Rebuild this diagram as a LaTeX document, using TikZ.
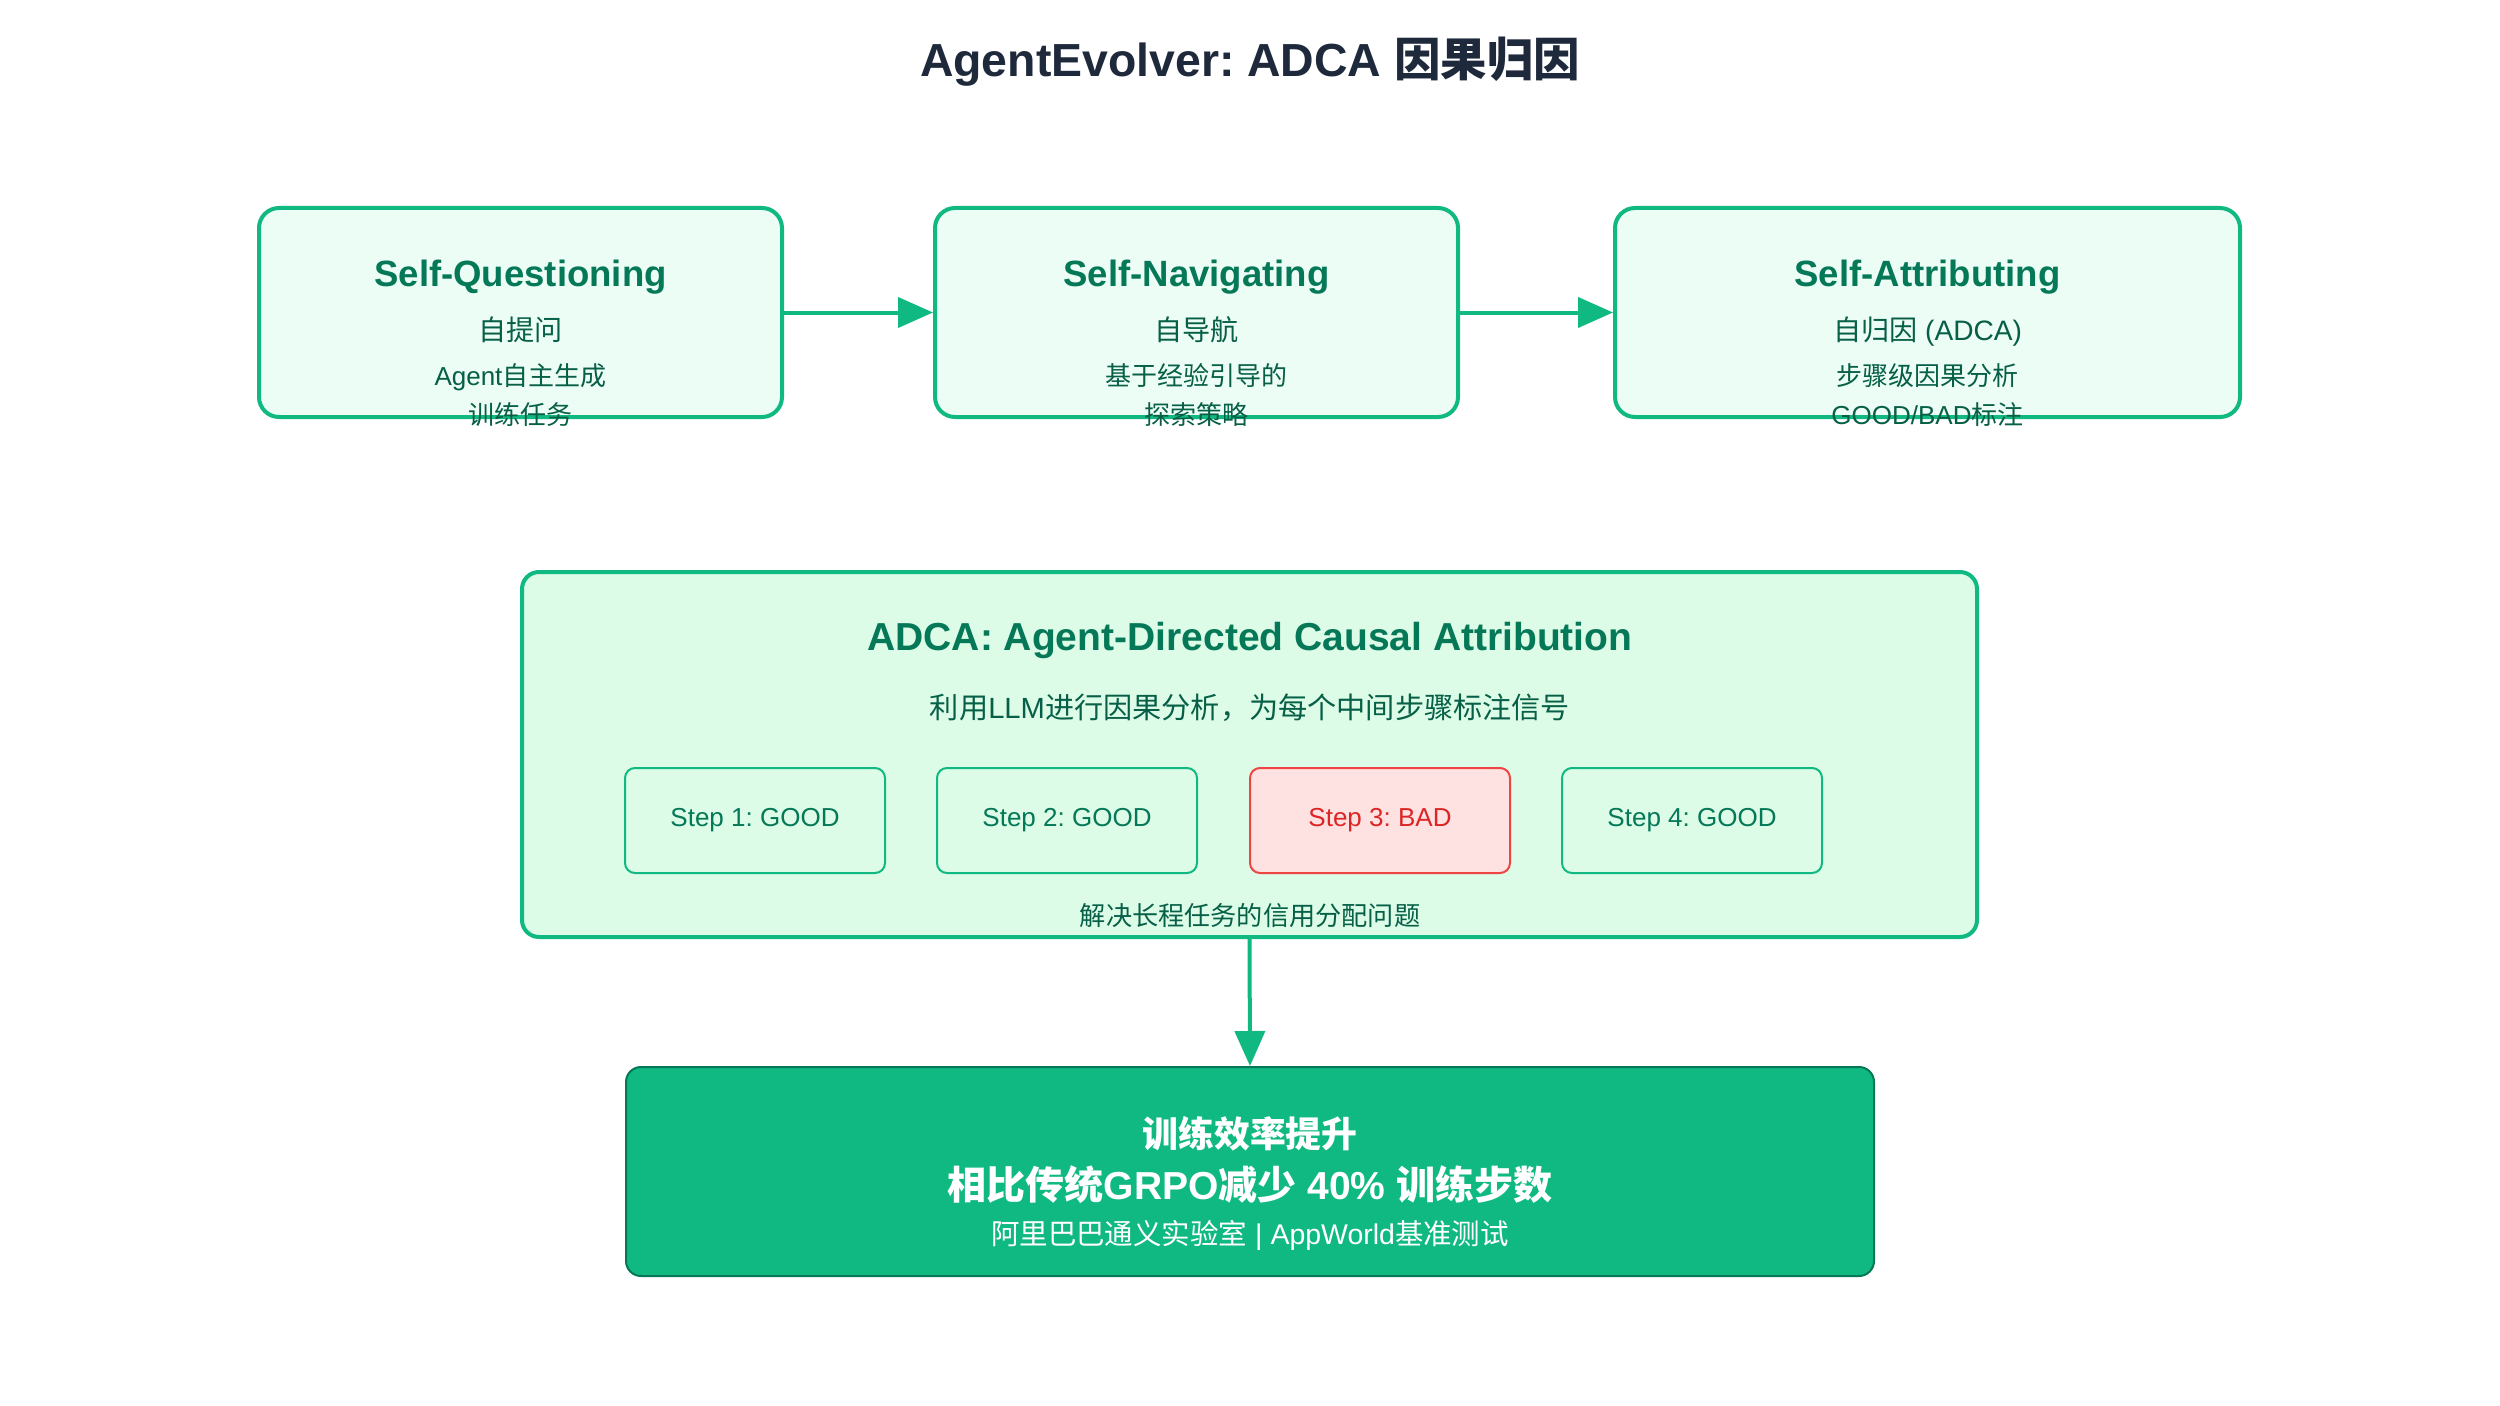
\documentclass[tikz,border=0pt]{standalone}
\usepackage{fontspec}
\setmainfont{Liberation Sans}
\newfontfamily\cjkfont{Noto Sans CJK SC}
\usetikzlibrary{arrows.meta}
\frenchspacing
\newcommand{\zh}[1]{{\cjkfont #1}}
\definecolor{aeedge}{HTML}{10B981}
\definecolor{aepale}{HTML}{ECFDF5}
\definecolor{aemint}{HTML}{DCFCE7}
\definecolor{aehead}{HTML}{047857}
\definecolor{aetext}{HTML}{065F46}
\definecolor{aetitle}{HTML}{1E293B}
\definecolor{aebadface}{HTML}{FEE2E2}
\definecolor{aebadedge}{HTML}{EF4444}
\definecolor{aebadtext}{HTML}{DC2626}
\definecolor{aedeep}{HTML}{047857}

\begin{document}
\begin{tikzpicture}[
  x=1cm, y=1cm,
  stagebox/.style={draw=aeedge, fill=aepale, line width=0.04cm,
    rounded corners=0.2cm, minimum height=2.09cm, inner sep=0pt},
  stagetitle/.style={anchor=base, inner sep=0pt, text=aehead,
    font=\bfseries\fontsize{10.4pt}{12pt}\selectfont},
  stagesub/.style={anchor=base, inner sep=0pt, text=aetext,
    font=\fontsize{8pt}{10pt}\selectfont},
  stagenote/.style={anchor=base, inner sep=0pt, text=aetext,
    font=\fontsize{7.4pt}{9pt}\selectfont},
  stepbox/.style={draw=aeedge, fill=aemint, line width=0.02cm,
    rounded corners=0.1cm, minimum width=2.6cm, minimum height=1.05cm,
    inner sep=0pt, text=aehead, font=\fontsize{7.4pt}{9pt}\selectfont},
  flow/.style={draw=aeedge, line width=0.04cm,
    -{Triangle[length=0.35cm, width=0.30cm]}}
]

  \fill[white] (0,0) rectangle (25,-14.06);
  \useasboundingbox (0,0) rectangle (25,-14.06);

  % title
  \node[anchor=base, inner sep=0pt, text=aetitle,
    font=\bfseries\fontsize{13.2pt}{16pt}\selectfont] (title) at (12.5,-0.77)
    {AgentEvolver: ADCA \zh{因果归因}};

  % --------------------------------------------------------------------
  % three stages
  % --------------------------------------------------------------------

  \node[stagebox, minimum width=5.23cm] (sq) at (5.205,-3.125) {};
  \node[stagebox, minimum width=5.23cm] (sn) at (11.965,-3.125) {};
  \node[stagebox, minimum width=6.25cm] (sa) at (19.275,-3.125) {};

  \node[stagetitle] (sqtitle) at (5.205,-2.87) {Self-Questioning};
  \node[stagesub] (sqsub) at (5.205,-3.40) {\zh{自提问}};
  \node[stagenote] (sqnoteA) at (5.205,-3.85) {Agent\zh{自主生成}};
  \node[stagenote] (sqnoteB) at (5.205,-4.24) {\zh{训练任务}};

  \node[stagetitle] (sntitle) at (11.965,-2.87) {Self-Navigating};
  \node[stagesub] (snsub) at (11.965,-3.40) {\zh{自导航}};
  \node[stagenote] (snnoteA) at (11.965,-3.85) {\zh{基于经验引导的}};
  \node[stagenote] (snnoteB) at (11.965,-4.24) {\zh{探索策略}};

  \node[stagetitle] (satitle) at (19.275,-2.87) {Self-Attributing};
  \node[stagesub] (sasub) at (19.275,-3.40) {\zh{自归因} (ADCA)};
  \node[stagenote] (sanoteA) at (19.275,-3.85) {\zh{步骤级因果分析}};
  \node[stagenote] (sanoteB) at (19.275,-4.24) {GOOD/BAD\zh{标注}};

  \draw[flow] (sq.east) -- (sn.west);
  \draw[flow] (sn.east) -- (sa.west);

  % --------------------------------------------------------------------
  % ADCA panel
  % --------------------------------------------------------------------

  \node[draw=aeedge, fill=aemint, line width=0.04cm, rounded corners=0.17cm,
    minimum width=14.55cm, minimum height=3.65cm, inner sep=0pt]
    (adca) at (12.495,-7.545) {};

  \node[anchor=base, inner sep=0pt, text=aehead,
    font=\bfseries\fontsize{11.1pt}{13pt}\selectfont] (adcatitle) at (12.5,-6.50)
    {ADCA: Agent-Directed Causal Attribution};
  \node[anchor=base, inner sep=0pt, text=aetext,
    font=\fontsize{8.3pt}{10pt}\selectfont] (adcasub) at (12.5,-7.18)
    {\zh{利用}LLM\zh{进行因果分析，为每个中间步骤标注信号}};

  \node[stepbox] (step1) at (7.55,-8.205) {Step 1: GOOD};
  \node[stepbox] (step2) at (10.67,-8.205) {Step 2: GOOD};
  \node[stepbox, draw=aebadedge, fill=aebadface, text=aebadtext]
    (step3) at (13.80,-8.205) {Step 3: BAD};
  \node[stepbox] (step4) at (16.92,-8.205) {Step 4: GOOD};

  \node[anchor=base, inner sep=0pt, text=aetext,
    font=\fontsize{7.45pt}{9pt}\selectfont] (adcanote) at (12.5,-9.25)
    {\zh{解决长程任务的信用分配问题}};

  % --------------------------------------------------------------------
  % result
  % --------------------------------------------------------------------

  \node[draw=aedeep, fill=aeedge, line width=0.02cm, rounded corners=0.15cm,
    minimum width=12.48cm, minimum height=2.09cm, inner sep=0pt]
    (result) at (12.50,-11.715) {};

  \node[anchor=base, inner sep=0pt, text=white,
    font=\bfseries\fontsize{10.2pt}{12pt}\selectfont] (resulthead) at (12.5,-11.47)
    {\zh{训练效率提升}};
  \node[anchor=base, inner sep=0pt, text=white,
    font=\bfseries\fontsize{11.1pt}{13pt}\selectfont] (resultmain) at (12.5,-11.99)
    {\zh{相比传统}GRPO\zh{减少} 40\% \zh{训练步数}};
  \node[anchor=base, inner sep=0pt, text=white,
    font=\fontsize{8.1pt}{10pt}\selectfont] (resultfoot) at (12.5,-12.44)
    {\zh{阿里巴巴通义实验室} | AppWorld\zh{基准测试}};

  \draw[flow] (adca.south) -- (result.north);

\end{tikzpicture}
\end{document}
